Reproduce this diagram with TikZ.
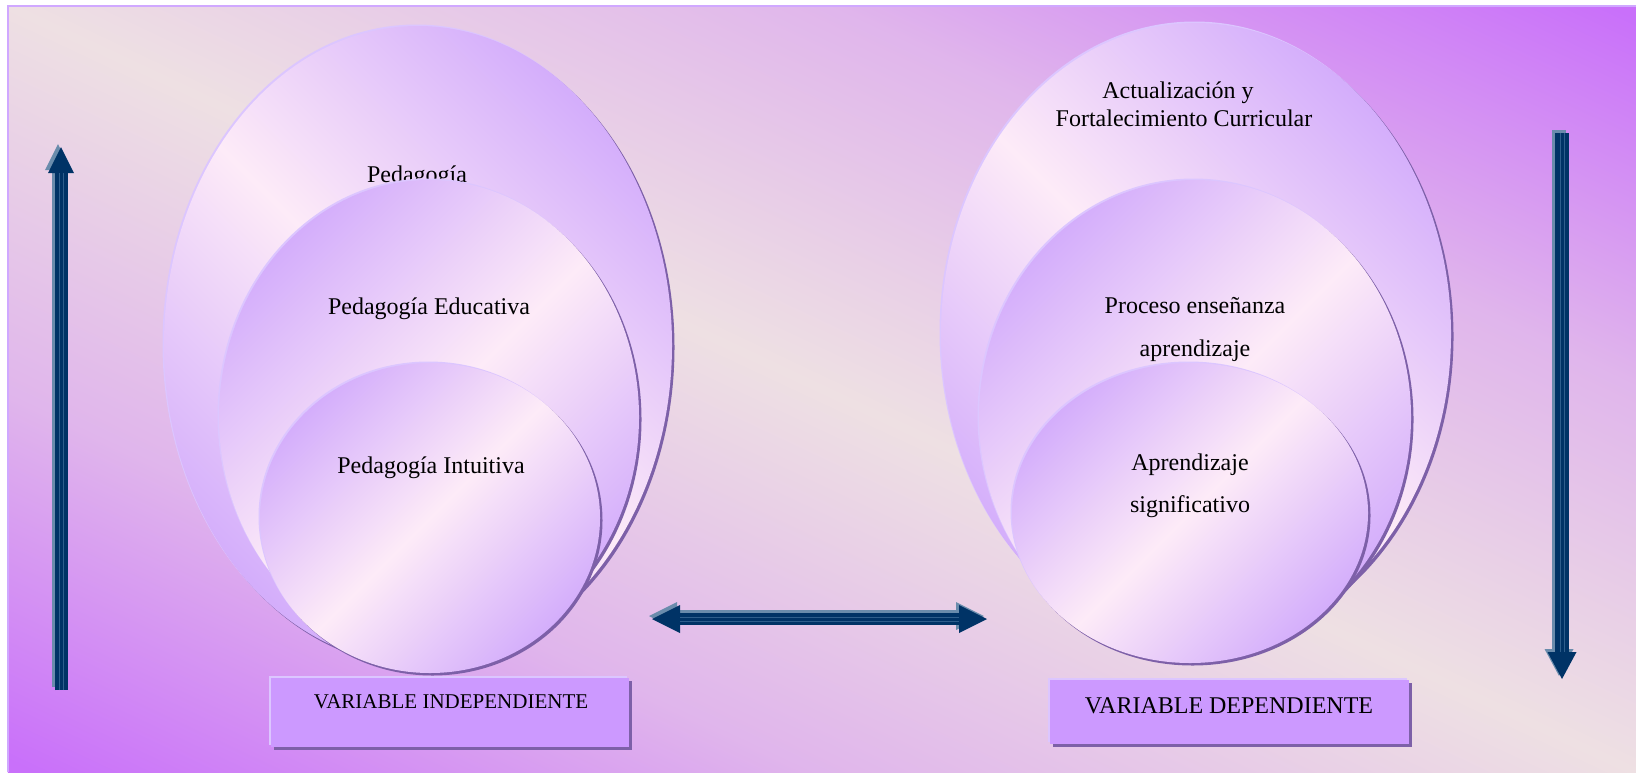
\documentclass[tikz,border=0pt]{standalone}
\usepackage{fontspec}
\setmainfont{Liberation Serif}
\usetikzlibrary{arrows.meta,shapes.geometric}

\definecolor{bgp}{HTML}{C970FA}
\definecolor{bgw}{HTML}{EEE0E3}
\colorlet{bgmid}{bgp!38!bgw}
\definecolor{ellp}{HTML}{D4AEFB}
\definecolor{ellw}{HTML}{FDEBF8}
\definecolor{rimlight}{HTML}{DCC6FF}
\definecolor{rimdark}{HTML}{7D60A8}
\definecolor{boxfill}{HTML}{CC99FF}
\definecolor{navy}{HTML}{003366}
\definecolor{steel}{HTML}{6A8CAC}
\definecolor{stripe}{HTML}{2E5E8C}
\definecolor{framecol}{HTML}{D0A8FF}

\pgfdeclarehorizontalshading{bgshade}{100bp}{color(0bp)=(bgp); color(15bp)=(bgp); color(32bp)=(bgmid); color(50bp)=(bgw); color(68bp)=(bgmid); color(85bp)=(bgp); color(100bp)=(bgp)}
\pgfdeclarehorizontalshading{ellshade}{100bp}{color(0bp)=(ellp); color(25bp)=(ellp); color(50bp)=(ellw); color(75bp)=(ellp); color(100bp)=(ellp)}

\tikzset{
  ring/.style={ellipse, inner sep=0pt, outer sep=0pt, shade, shading=ellshade},
  lbl/.style={inner sep=0pt, anchor=base, font=\fontsize{12}{14}\selectfont, text=black},
  smalllbl/.style={inner sep=0pt, anchor=base, font=\fontsize{10.5}{12}\selectfont, text=black},
  vbox/.style={rectangle, inner sep=0pt, outer sep=0pt, fill=boxfill},
  stripeline/.style={draw=stripe, line width=0.45pt},
}

\newcommand\ringshape[6]{%
  \fill[rimlight] (#2-1.5,#3-1.5) ellipse [x radius={#4*0.5pt}, y radius={#5*0.5pt}];
  \fill[rimdark] (#2+2.5,#3+2.5) ellipse [x radius={#4*0.5pt}, y radius={#5*0.5pt}];
  \node[ring, shading angle=#6, minimum width=#4pt, minimum height=#5pt] (#1) at (#2,#3) {};
}

\begin{document}
\begin{tikzpicture}[x=0.5pt,y=-0.5pt]
\useasboundingbox (0,0) rectangle (1636,772);
\fill[white] (0,0) rectangle (1636,772);
% background (diagonal mirrored gradient)
\begin{scope}[transform canvas={xscale=2.12533}]
\shade[shading=bgshade, shading angle=45] (3.764,6) rectangle (769.764,772);
\end{scope}
\draw[framecol, line width=0.75pt] (8,772) -- (8,6) -- (1636,6);

% left group
\ringshape{pedOuter}{418}{345}{254}{319}{45}
\node[lbl] (tPed) at (417,182) {Pedagogía};
\ringshape{pedEdu}{429}{417}{210}{237}{-45}
\node[lbl] (tEdu) at (429,314) {Pedagogía Educativa};
\ringshape{pedInt}{430}{518}{170}{155}{-45}
\node[lbl] (tInt) at (431,473) {Pedagogía Intuitiva};

% right group
\ringshape{actOuter}{1196}{334}{255}{311}{45}
\node[lbl] (tAct1) at (1178,98) {Actualización y};
\node[lbl] (tAct2) at (1184,126) {Fortalecimiento Curricular};
\ringshape{procMid}{1195}{417}{216}{237}{-45}
\node[lbl] (tPro1) at (1195,313) {Proceso enseñanza};
\node[lbl] (tPro2) at (1195,356) {aprendizaje};
\ringshape{aprInner}{1190}{513}{178}{150}{-45}
\node[lbl] (tApr1) at (1190,470) {Aprendizaje};
\node[lbl] (tApr2) at (1190,512) {significativo};

% boxes
\fill[rimlight] (269,676) rectangle (627,745);
\fill[rimdark] (274,681) rectangle (632,750);
\node[vbox, minimum width=179pt, minimum height=34.5pt] (boxL) at (450,712.5) {};
\node[smalllbl] (tBoxL) at (451,708) {VARIABLE INDEPENDIENTE};

\fill[rimlight] (1048,678) rectangle (1407,742);
\fill[rimdark] (1053,683) rectangle (1412,747);
\node[vbox, minimum width=179.5pt, minimum height=32pt] (boxR) at (1229.5,712) {};
\node[lbl] (tBoxR) at (1229,713) {VARIABLE DEPENDIENTE};

% arrows
\coordinate (lvA) at (61,690);
\coordinate (lvB) at (61,147);
\coordinate (rvA) at (1562,133);
\coordinate (rvB) at (1562,679);
\coordinate (hA) at (652,619);
\coordinate (hB) at (987,619);

% left vertical arrow
\draw[steel, line width=6.5pt, -{Triangle[width=13pt,length=13pt,line width=0pt]},
      transform canvas={xshift=-1.5pt,yshift=1.5pt}] (lvA) -- (lvB);
\draw[navy, line width=6.5pt, -{Triangle[width=13pt,length=13pt,line width=0pt]}] (lvA) -- (lvB);
\draw[stripeline, shorten >=13pt, transform canvas={xshift=-1pt}] (lvA) -- (lvB);
\draw[stripeline, shorten >=13pt, transform canvas={xshift=1.2pt}] (lvA) -- (lvB);

% right vertical arrow
\draw[steel, line width=7pt, -{Triangle[width=14.5pt,length=13.5pt,line width=0pt]},
      transform canvas={xshift=-1.5pt,yshift=1.5pt}] (rvA) -- (rvB);
\draw[navy, line width=7pt, -{Triangle[width=14.5pt,length=13.5pt,line width=0pt]}] (rvA) -- (rvB);
\draw[stripeline, shorten >=13.5pt, transform canvas={xshift=-1pt}] (rvA) -- (rvB);
\draw[stripeline, shorten >=13.5pt, transform canvas={xshift=1.2pt}] (rvA) -- (rvB);

% horizontal double arrow
\draw[steel, line width=6pt, {Triangle[width=14pt,length=14pt,line width=0pt]}-{Triangle[width=14pt,length=14pt,line width=0pt]},
      transform canvas={xshift=-1.5pt,yshift=1.5pt}] (hA) -- (hB);
\draw[navy, line width=6pt, {Triangle[width=14pt,length=14pt,line width=0pt]}-{Triangle[width=14pt,length=14pt,line width=0pt]}] (hA) -- (hB);
\draw[stripeline, shorten <=14pt, shorten >=14pt, transform canvas={yshift=1pt}] (hA) -- (hB);
\draw[stripeline, shorten <=14pt, shorten >=14pt, transform canvas={yshift=-1.2pt}] (hA) -- (hB);
\end{tikzpicture}
\end{document}
